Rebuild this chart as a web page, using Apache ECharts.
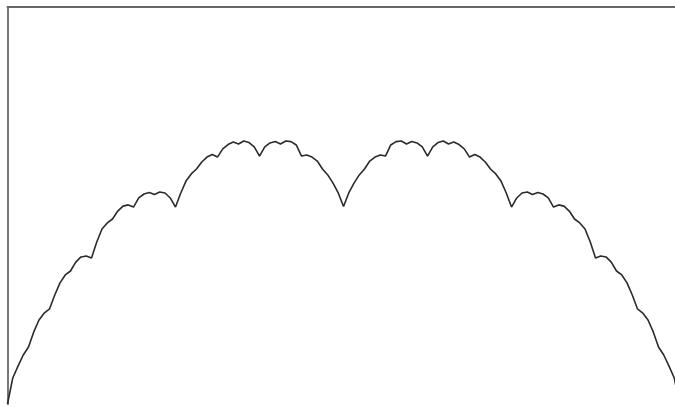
<!DOCTYPE html>
<html>
<head>
<meta charset="utf-8">
<script src="https://cdn.jsdelivr.net/npm/echarts@6/dist/echarts.min.js"></script>
<style>
html,body{margin:0;padding:0;background:#fff;}
#chart{width:675px;height:407px;}
</style>
</head>
<body>
<div id="chart"></div>
<script>
const leftHalf = [0,0.131,0.191,0.247,0.287,0.363,0.423,0.458,0.479,0.549,0.610,0.650,0.670,0.715,0.741,0.746,0.736,0.816,0.882,0.912,0.932,0.972,0.997,1.003,0.992,1.038,1.058,1.065,1.055,1.068,1.063,1.038,0.992,1.063,1.123,1.159,1.184,1.219,1.244,1.257,1.244,1.285,1.307,1.320,1.310,1.325,1.317,1.295,1.249,1.295,1.315,1.322,1.310,1.325,1.322,1.305,1.249,1.254,1.244,1.224,1.184,1.154,1.113,1.063,0.995];
const rightHalf = [1.063,1.113,1.154,1.184,1.224,1.244,1.254,1.249,1.305,1.322,1.325,1.310,1.322,1.315,1.295,1.249,1.295,1.317,1.325,1.310,1.320,1.307,1.285,1.244,1.257,1.244,1.219,1.184,1.159,1.123,1.063,0.992,1.038,1.063,1.068,1.055,1.065,1.058,1.038,0.992,1.003,0.997,0.972,0.932,0.912,0.882,0.816,0.736,0.746,0.741,0.715,0.670,0.650,0.610,0.549,0.479,0.458,0.423,0.363,0.287,0.247,0.191,0.131,0];
const curve = leftHalf.concat(rightHalf);
const points = curve.map((v, i) => [i, v]);

const chart = echarts.init(document.getElementById('chart'), null, {renderer: 'canvas'});
chart.setOption({
  animation: false,
  backgroundColor: '#ffffff',
  grid: {left: 7.5, right: 0, top: 7, bottom: 3, containLabel: false},
  xAxis: {
    type: 'value',
    min: 0,
    max: 127.14,
    position: 'top',
    axisLine: {show: true, onZero: false, lineStyle: {color: '#666', width: 2}},
    axisTick: {show: false},
    axisLabel: {show: false},
    splitLine: {show: false}
  },
  yAxis: {
    type: 'value',
    min: 0,
    max: 2,
    axisLine: {show: true, onZero: false, lineStyle: {color: '#777', width: 2}},
    axisTick: {show: false},
    axisLabel: {show: false},
    splitLine: {show: false}
  },
  series: [{
    type: 'line',
    data: points,
    showSymbol: false,
    smooth: false,
    lineStyle: {color: '#2b2b2b', width: 1.6},
    clip: true
  }]
});
</script>
</body>
</html>
